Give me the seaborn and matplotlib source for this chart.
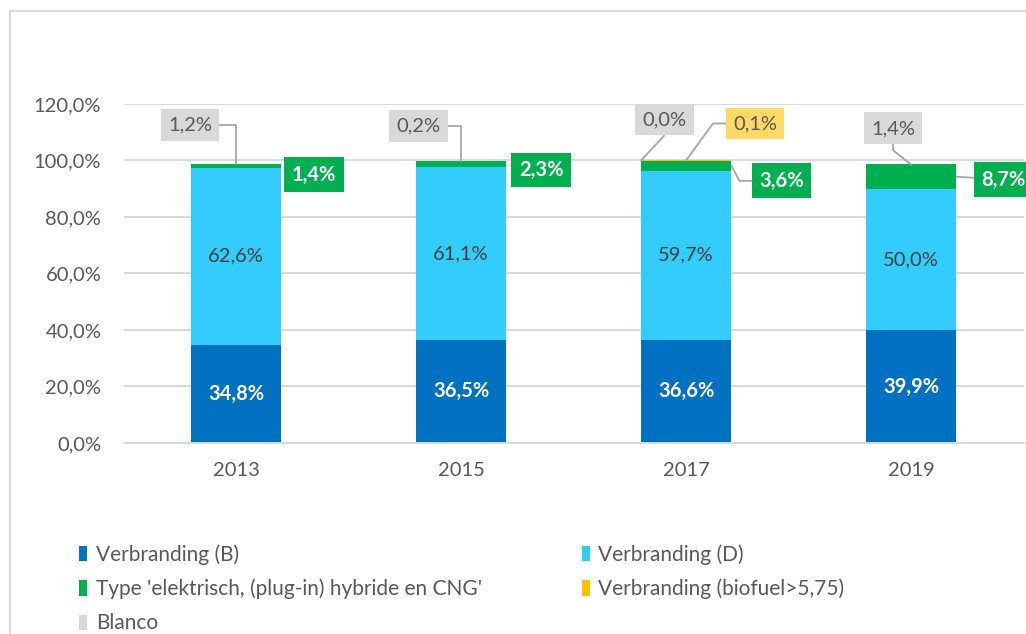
import matplotlib
matplotlib.use("Agg")
import matplotlib.pyplot as plt
import seaborn as sns
import pandas as pd
import numpy as np
from matplotlib.patches import Patch
from matplotlib.lines import Line2D

# ---------------- data ----------------
years = ["2013", "2015", "2017", "2019"]
verbranding_b = [34.8, 36.5, 36.6, 39.9]
verbranding_d = [62.6, 61.1, 59.7, 50.0]
elektrisch = [1.4, 2.3, 3.6, 8.7]
biofuel = [0.0, 0.0, 0.1, 0.0]
blanco = [1.2, 0.2, 0.0, 1.4]

series_names = ["Verbranding (B)", "Verbranding (D)",
                "Type 'elektrisch, (plug-in) hybride en CNG'",
                "Verbranding (biofuel>5,75)", "Blanco"]
yticks = [0, 20, 40, 60, 80, 100, 120]

# ---------------- style ----------------
sns.set_style("white")
plt.rcParams["font.family"] = ["Lato", "DejaVu Sans"]

C_B = "#0070C0"
C_D = "#33CCFF"
C_G = "#00B050"
C_Y = "#FFC000"
C_BL = "#D9D9D9"
TXT = "#595959"
GRID = "#D9D9D9"
LEAD = "#A6A6A6"
FS = 14.5
FS_LEG = 15

def fmt(v):
    return f"{v:.1f}".replace(".", ",") + "%"

fig = plt.figure(figsize=(10.26, 6.34), dpi=100)
ax = fig.add_axes([0.1204, 0.3013, 0.8772, 0.5347])

df = pd.DataFrame({"year": years, "B": verbranding_b, "D": verbranding_d,
                   "G": elektrisch, "Y": biofuel, "BL": blanco})
bottom = np.zeros(len(years))
W = 0.404
for col, color in [("B", C_B), ("D", C_D), ("G", C_G), ("Y", C_Y)]:
    sns.barplot(data=df, x="year", y=col, color=color, saturation=1,
                width=W, bottom=bottom.copy(), errorbar=None, linewidth=0,
                ax=ax)
    bottom = bottom + df[col].values

ax.set_xlim(-0.5, 3.5)
ax.set_ylim(0, 120)
ax.set_yticks(yticks)
ax.set_yticklabels([fmt(v) for v in yticks])
ax.set_xlabel("")
ax.set_ylabel("")
ax.tick_params(axis="y", length=0, pad=16, labelsize=FS, labelcolor=TXT)
ax.tick_params(axis="x", length=0, pad=14, labelsize=FS, labelcolor=TXT)
ax.yaxis.grid(True, color=GRID, lw=1.4)
ax.set_axisbelow(True)
for s in ["left", "right", "top"]:
    ax.spines[s].set_visible(False)
ax.spines["bottom"].set_color(GRID)
ax.spines["bottom"].set_linewidth(1.4)

# inner labels
for i in range(len(years)):
    b = verbranding_b[i]
    d = verbranding_d[i]
    ax.text(i, b / 2, fmt(b), ha="center", va="center", color="white",
            fontsize=FS, fontweight="bold")
    ax.text(i, b + d / 2, fmt(d), ha="center", va="center", color="#404040",
            fontsize=FS)

def callout(x, y, txt, dx, dy, fc, tc, bold=False, conn=None):
    kw = dict(xy=(x, y), xytext=(dx, dy), textcoords="offset pixels",
              ha="center", va="center", fontsize=FS, color=tc,
              fontweight="bold" if bold else "normal",
              bbox=dict(boxstyle="square,pad=0.37", fc=fc, ec="none"),
              annotation_clip=False)
    if conn is not None:
        kw["arrowprops"] = dict(arrowstyle="-", color=LEAD, lw=1.3,
                                shrinkA=0, shrinkB=0, connectionstyle=conn)
    ax.annotate(txt, **kw)

half = W / 2
# Blanco (gray) labels
tops = [verbranding_b[i] + verbranding_d[i] + elektrisch[i] + biofuel[i]
        for i in range(4)]
gray_layout = [
    (0, -46, 39, "angle,angleA=0,angleB=90,rad=0"),
    (0, -43, 35, "angle,angleA=0,angleB=90,rad=0"),
    (-0.2, 23, 41, "angle,angleA=90,angleB=47,rad=0"),
    (0, -18, 36, "angle,angleA=90,angleB=142,rad=0"),
]
for i, (xo, dx, dy, conn) in enumerate(gray_layout):
    callout(i + xo, tops[i], fmt(blanco[i]), dx, dy, C_BL, TXT, False, conn)

# biofuel label (2017 only)
callout(2, tops[2], fmt(biofuel[2]), 69, 37, "#FFD966", TXT, False,
        "angle,angleA=0,angleB=54,rad=0")

# elektrisch (green) labels
green_layout = [
    (0, 78, -9, None),
    (0, 80, -6, None),
    (half, 50, -15, "angle,angleA=0,angleB=-62,rad=0"),
    (half, 47, -3, "arc3,rad=0"),
]
for i, (xo, dx, dy, conn) in enumerate(green_layout):
    ymid = verbranding_b[i] + verbranding_d[i] + elektrisch[i] / 2
    callout(i + xo, ymid, fmt(elektrisch[i]), dx, dy, C_G, "white", True, conn)

# legend
colors = [C_B, C_D, C_G, C_Y, C_BL]
handles = [Patch(facecolor=c, edgecolor="none") for c in colors]
order = [0, 2, 4, 1, 3]
leg = fig.legend([handles[k] for k in order], [series_names[k] for k in order],
                 loc="upper left", bbox_to_anchor=(0.077, 0.142), ncol=2,
                 frameon=False, fontsize=FS_LEG, handlelength=0.4,
                 handleheight=0.75, handletextpad=0.4, labelspacing=0.68,
                 columnspacing=4.8, borderpad=0, borderaxespad=0)
for t in leg.get_texts():
    t.set_color(TXT)

# outer chart frame (partially visible)
fig.add_artist(Line2D([0.0097, 0.0097], [0, 0.9826], color=GRID, lw=1.6,
                      transform=fig.transFigure))
fig.add_artist(Line2D([0.0097, 1.0], [0.9826, 0.9826], color=GRID, lw=1.6,
                      transform=fig.transFigure))

fig.savefig("out.png", dpi=100)
